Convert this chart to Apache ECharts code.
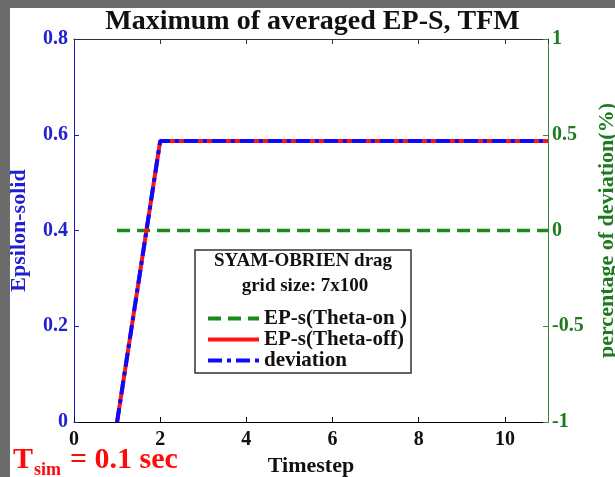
<!DOCTYPE html>
<html>
<head>
<meta charset="utf-8">
<script src="https://cdn.jsdelivr.net/npm/echarts@6/dist/echarts.min.js"></script>
<style>
  html, body { margin: 0; padding: 0; width: 615px; height: 477px; overflow: hidden; background: #6c6c6c; }
  #chart { position: absolute; left: 10px; top: 8px; width: 605px; height: 469px; background: #ffffff; }
</style>
</head>
<body>
<div id="chart"></div>
<script>
// Timestep values on the x axis
const timesteps = [1, 2, 3, 4, 5, 6, 7, 8, 9, 10, 11];
// Green dashed curve, plotted against the percentage axis
const thetaOnValues = [0, 0, 0, 0, 0, 0, 0, 0, 0, 0, 0];
// Red solid curve, epsilon-solid
const thetaOffValues = [0, 0.587, 0.587, 0.587, 0.587, 0.587, 0.587, 0.587, 0.587, 0.587, 0.587];
// Blue dash-dot curve, epsilon-solid
const deviationValues = [0, 0.587, 0.587, 0.587, 0.587, 0.587, 0.587, 0.587, 0.587, 0.587, 0.587];

const seriesNames = ['EP-s(Theta-on )', 'EP-s(Theta-off)', 'deviation'];
const titleText = 'Maximum of averaged EP-S, TFM';
const legendHeader = ['SYAM-OBRIEN drag', 'grid size: 7x100'];

const SERIF = '"Liberation Serif", "DejaVu Serif", serif';
const BLUE_TXT = '#2020d0';
const BLUE_AX = '#1a1ab8';
const GREEN_TXT = '#1e7a1e';
const GREEN_AX = '#3a8a3a';

const pairs = vals => timesteps.map((t, i) => [t, vals[i]]);

const chart = echarts.init(document.getElementById('chart'));

chart.setOption({
  animation: false,
  title: {
    text: titleText,
    left: 'center',
    top: 0,
    padding: 0,
    textStyle: { fontFamily: SERIF, fontWeight: 'bold', fontSize: 28, lineHeight: 28, color: '#111' }
  },
  grid: { left: 64, top: 31, right: 67, bottom: 55, containLabel: false, outerBoundsMode: 'none' },
  xAxis: [
    {
      type: 'value', position: 'bottom', min: 0, max: 11, interval: 2,
      name: 'Timestep', nameLocation: 'middle', nameGap: 31,
      nameTextStyle: { fontFamily: SERIF, fontWeight: 'bold', fontSize: 22, lineHeight: 22, color: '#111' },
      axisLine: { onZero: false, lineStyle: { color: '#000', width: 1 } },
      axisTick: { inside: true, length: 5, lineStyle: { color: '#000' } },
      axisLabel: { margin: 8, showMaxLabel: false, fontFamily: SERIF, fontWeight: 'bold', fontSize: 20, lineHeight: 20, color: '#111' },
      splitLine: { show: false }
    },
    {
      type: 'value', position: 'top', min: 0, max: 11, interval: 2,
      axisLine: { onZero: false, lineStyle: { color: '#333', width: 1 } },
      axisTick: { inside: true, length: 5, lineStyle: { color: '#333' } },
      axisLabel: { show: false },
      splitLine: { show: false }
    }
  ],
  yAxis: [
    {
      type: 'value', position: 'left', min: 0, max: 0.8, interval: 0.2,
      name: 'Epsilon-solid', nameLocation: 'middle', nameGap: 44,
      nameTextStyle: { fontFamily: SERIF, fontWeight: 'bold', fontSize: 22, lineHeight: 22, color: BLUE_TXT },
      axisLine: { show: true, onZero: false, lineStyle: { color: BLUE_AX, width: 1 } },
      axisTick: { show: true, inside: true, length: 5, lineStyle: { color: BLUE_AX } },
      axisLabel: { margin: 6, fontFamily: SERIF, fontWeight: 'bold', fontSize: 20, lineHeight: 20, color: BLUE_TXT },
      splitLine: { show: false }
    },
    {
      type: 'value', position: 'right', min: -1, max: 1, interval: 0.5,
      name: 'percentage of deviation(%)', nameLocation: 'middle', nameGap: 48, nameRotate: 90,
      nameTextStyle: { fontFamily: SERIF, fontWeight: 'bold', fontSize: 22, lineHeight: 22, color: GREEN_TXT },
      axisLine: { show: true, onZero: false, lineStyle: { color: GREEN_AX, width: 1 } },
      axisTick: { show: true, inside: true, length: 5, lineStyle: { color: GREEN_AX } },
      axisLabel: { margin: 4, fontFamily: SERIF, fontWeight: 'bold', fontSize: 20, lineHeight: 20, color: GREEN_TXT },
      splitLine: { show: false }
    }
  ],
  legend: {
    orient: 'vertical',
    left: 196, top: 300,
    padding: 0, itemGap: 0,
    itemWidth: 51, itemHeight: 14,
    lineStyle: { width: 4 },
    // line-only keys: the point marker is hidden
    itemStyle: { opacity: 0 },
    textStyle: { fontFamily: SERIF, fontWeight: 'bold', fontSize: 21, lineHeight: 20, color: '#111' },
    data: seriesNames
  },
  graphic: [
    {
      type: 'rect', z: 3,
      shape: { x: 185, y: 242, width: 216, height: 123 },
      style: { fill: '#fff', stroke: '#333', lineWidth: 1.5 }
    },
    {
      type: 'text', z: 5, x: 293, y: 253.5,
      style: { text: legendHeader[0], align: 'center', verticalAlign: 'middle', font: 'bold 19px ' + SERIF, fill: '#111' }
    },
    {
      type: 'text', z: 5, x: 295, y: 278.5,
      style: { text: legendHeader[1], align: 'center', verticalAlign: 'middle', font: 'bold 19px ' + SERIF, fill: '#111' }
    },
    {
      type: 'text', z: 5, x: 3, y: 452.5,
      style: { text: 'T', align: 'left', verticalAlign: 'middle', font: 'bold 30px ' + SERIF, fill: '#ff0a0a' }
    },
    {
      type: 'text', z: 5, x: 24, y: 462.5,
      style: { text: 'sim', align: 'left', verticalAlign: 'middle', font: 'bold 18px ' + SERIF, fill: '#ff0a0a' }
    },
    {
      type: 'text', z: 5, x: 60, y: 452.5,
      style: { text: '= 0.1 sec', align: 'left', verticalAlign: 'middle', font: 'bold 30px ' + SERIF, fill: '#ff0a0a' }
    }
  ],
  series: [
    {
      name: seriesNames[0], type: 'line', xAxisIndex: 0, yAxisIndex: 1,
      data: pairs(thetaOnValues), symbol: 'none', z: 2,
      lineStyle: { color: '#1a8a1a', width: 3.5, type: [13, 7] },
      itemStyle: { color: '#1a8a1a' }
    },
    {
      name: seriesNames[1], type: 'line', xAxisIndex: 0, yAxisIndex: 0,
      data: pairs(thetaOffValues), symbol: 'none', z: 3,
      lineStyle: { color: '#ff1414', width: 4, type: 'solid' },
      itemStyle: { color: '#ff1414' }
    },
    {
      name: seriesNames[2], type: 'line', xAxisIndex: 0, yAxisIndex: 0,
      data: pairs(deviationValues), symbol: 'none', z: 4,
      lineStyle: { color: '#0a0aff', width: 4, type: [14, 5, 4, 5] },
      itemStyle: { color: '#0a0aff' }
    }
  ]
});
</script>
</body>
</html>
